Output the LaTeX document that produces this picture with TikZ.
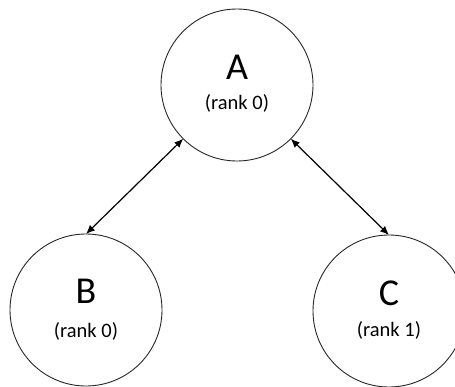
\documentclass[tikz,border=0pt]{standalone}
\usepackage{fontspec}
\setmainfont{Carlito}
\usetikzlibrary{arrows.meta}
\begin{document}
\begin{tikzpicture}[x=1pt,y=-1pt,
  vertex/.style={draw=black!85,line width=0.9pt,circle,minimum size=152pt,inner sep=0pt,outer sep=0pt},
  bigname/.style={font=\fontsize{38}{40}\selectfont,inner sep=0pt},
  ranktext/.style={font=\fontsize{20.5}{22}\selectfont,inner sep=0pt},
  link/.style={line width=1.2pt,{Latex[length=9pt,width=7.5pt]}-{Latex[length=9pt,width=7.5pt]}}]
\useasboundingbox (0,0) rectangle (455,386);
% the three process circles
\node[vertex] (A) at (237,85) {};
\node[vertex] (B) at (86,310) {};
\node[vertex] (C) at (389,311) {};
% names and ranks
\node[bigname] (An) at (237,67) {A};
\node[ranktext] (Ar) at (237,103) {(rank 0)};
\node[bigname] (Bn) at (86,291) {B};
\node[ranktext] (Br) at (86,331) {(rank 0)};
\node[bigname] (Cn) at (389,293) {C};
\node[ranktext] (Cr) at (389,330) {(rank 1)};
% two-way links
\draw[link] (A.-135) -- (B.north);
\draw[link] (A.-45) -- (C.north);
\end{tikzpicture}
\end{document}
